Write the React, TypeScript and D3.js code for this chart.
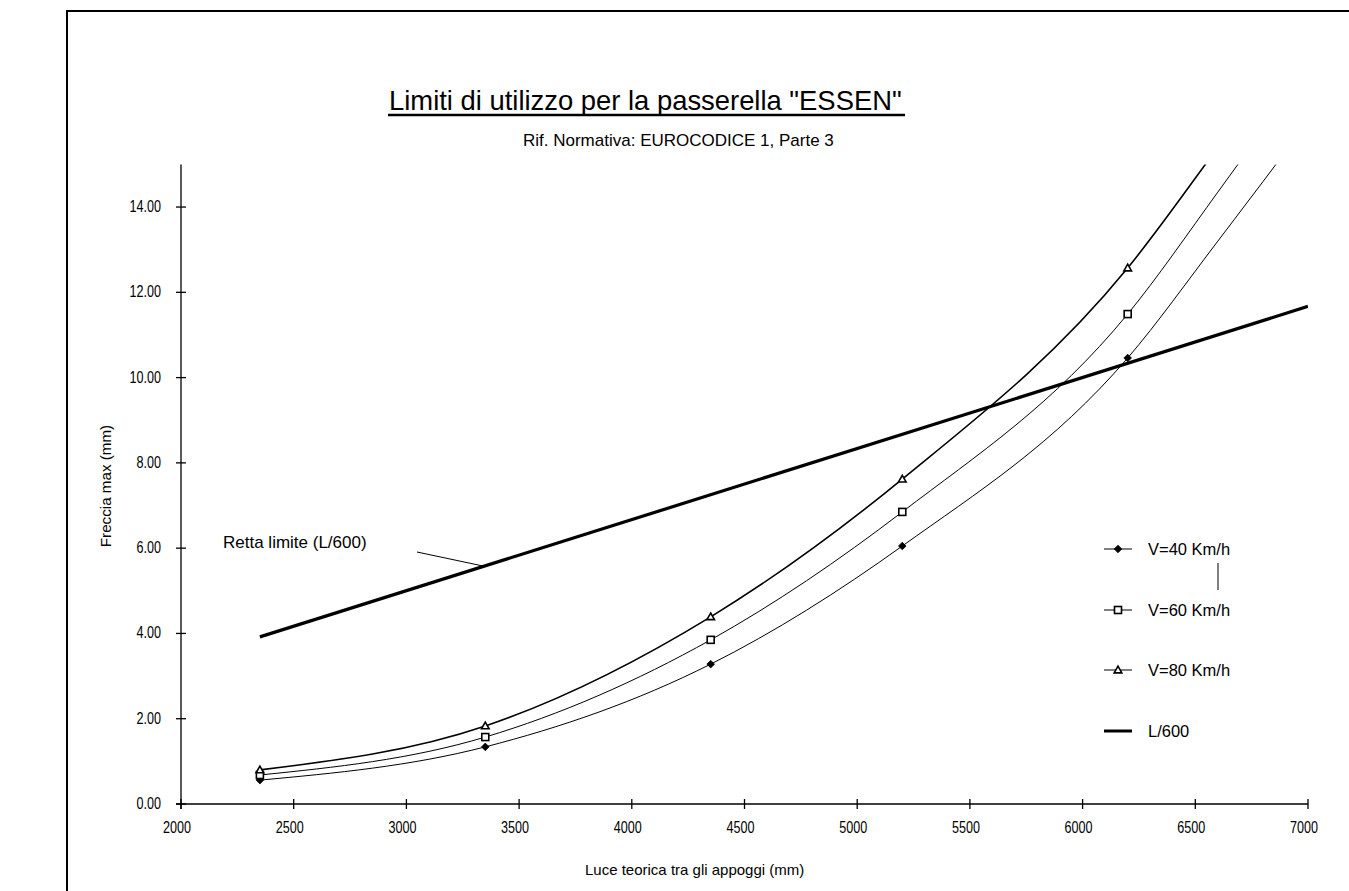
import React from "react";
import * as d3 from "d3";

// Data (span in mm, deflection in mm)
const spans = [2350, 3350, 4350, 5200, 6200];
const v40 = [0.56, 1.34, 3.28, 6.05, 10.46];
const v60 = [0.68, 1.57, 3.85, 6.85, 11.49];
const v80 = [0.80, 1.83, 4.39, 7.62, 12.57];
// continuation of the curves beyond the last marker (clipped at the top)
const extSpans = [6600, 7000];
const v40Ext = [13.2, 16.0];
const v60Ext = [14.35, 17.3];
const v80Ext = [15.4, 18.3];
const limitSpans = [2350, 7000];
const limitValues = [3.92, 11.67];
const xTicks = [2000, 2500, 3000, 3500, 4000, 4500, 5000, 5500, 6000, 6500, 7000];
const yTicks = [0, 2, 4, 6, 8, 10, 12, 14];
const legendLabels = ["V=40 Km/h", "V=60 Km/h", "V=80 Km/h", "L/600"];

const W = 1349, H = 891;
const x = d3.scaleLinear().domain([2000, 7000]).range([181, 1308]);
const y = d3.scaleLinear().domain([0, 15]).range([804, 164.4]);
const FONT = "Liberation Sans, Arial, sans-serif";

type Pt = [number, number];
const zip = (xs: number[], ys: number[]): Pt[] => xs.map((v, i) => [v, ys[i]]);

const curve = d3.line<Pt>().x(d => x(d[0])).y(d => y(d[1])).curve(d3.curveMonotoneX);
const straight = d3.line<Pt>().x(d => x(d[0])).y(d => y(d[1]));

function Marker({ kind, cx, cy }: { kind: string; cx: number; cy: number }) {
  if (kind === "diamond") {
    const r = 3.8;
    return <path d={`M${cx},${cy - r}L${cx + r},${cy}L${cx},${cy + r}L${cx - r},${cy}Z`} fill="#000" stroke="#000" strokeWidth={0.8} />;
  }
  if (kind === "square") {
    return <rect x={cx - 3.5} y={cy - 3.5} width={7} height={7} fill="#fff" stroke="#000" strokeWidth={1.6} />;
  }
  const r = 3.8;
  return <path d={`M${cx},${cy - r}L${cx + r},${cy + r * 0.75}L${cx - r},${cy + r * 0.75}Z`} fill="#fff" stroke="#000" strokeWidth={1.6} />;
}

const series = [
  { vals: v40, ext: v40Ext, kind: "diamond", width: 1 },
  { vals: v60, ext: v60Ext, kind: "square", width: 1 },
  { vals: v80, ext: v80Ext, kind: "triangle", width: 1.6 },
];

function SmallText({ tx, ty, anchor, children }: { tx: number; ty: number; anchor: string; children: React.ReactNode }) {
  return (
    <text transform={`translate(${tx},${ty}) scale(1,1.25)`} textAnchor={anchor as any} fontSize={12.6} fontFamily={FONT} fill="#000">
      {children}
    </text>
  );
}

export default function App() {
  const fmt = d3.format(".2f");
  return (
    <svg width={W} height={H} style={{ position: "absolute", left: 0, top: 0, background: "#fff" }}>
      <defs>
        <clipPath id="plot">
          <rect x={181} y={y(15)} width={1127} height={804 - y(15) + 2} />
        </clipPath>
      </defs>
      <rect x={0} y={0} width={W} height={H} fill="#fff" />
      {/* frame */}
      <rect x={67} y={11} width={1400} height={1000} fill="none" stroke="#000" strokeWidth={2} />

      {/* title */}
      <text x={389} y={110} fontSize={27.4} fontFamily={FONT} fill="#000">Limiti di utilizzo per la passerella "ESSEN"</text>
      <line x1={388} x2={905} y1={115} y2={115} stroke="#000" strokeWidth={2.5} />
      <text x={523} y={146} fontSize={17} fontFamily={FONT} fill="#000">Rif. Normativa: EUROCODICE 1, Parte 3</text>

      {/* axes */}
      <line x1={176} x2={1308} y1={804} y2={804} stroke="#000" strokeWidth={1.3} />
      <line x1={181} x2={181} y1={y(15)} y2={809} stroke="#000" strokeWidth={1.3} />
      {xTicks.map(t => (
        <g key={"x" + t}>
          <line x1={x(t)} x2={x(t)} y1={799} y2={809} stroke="#000" strokeWidth={1.3} />
          <SmallText tx={x(t) - 4} ty={833} anchor="middle">{String(t)}</SmallText>
        </g>
      ))}
      {yTicks.map(t => (
        <g key={"y" + t}>
          <line x1={176} x2={186} y1={y(t)} y2={y(t)} stroke="#000" strokeWidth={1.3} />
          <SmallText tx={161} ty={y(t) + 5} anchor="end">{fmt(t)}</SmallText>
        </g>
      ))}
      <text transform={`translate(111,486) rotate(-90)`} textAnchor="middle" fontSize={15.2} fontFamily={FONT} fill="#000">Freccia max (mm)</text>
      <text x={585} y={875} fontSize={15} fontFamily={FONT} fill="#000">Luce teorica tra gli appoggi (mm)</text>

      {/* curves */}
      <g clipPath="url(#plot)">
        <path d={straight(zip(limitSpans, limitValues)) || ""} fill="none" stroke="#000" strokeWidth={3.2} />
        {series.map((s, i) => (
          <path key={i} d={curve(zip(spans.concat(extSpans), s.vals.concat(s.ext))) || ""} fill="none" stroke="#000" strokeWidth={s.width} />
        ))}
      </g>
      {series.map((s, i) => (
        <g key={"m" + i}>
          {spans.map((sp, j) => <Marker key={j} kind={s.kind} cx={x(sp)} cy={y(s.vals[j])} />)}
        </g>
      ))}

      {/* annotation */}
      <text x={223} y={548} fontSize={17} fontFamily={FONT} fill="#000">Retta limite (L/600)</text>
      <line x1={417} x2={483} y1={552} y2={566} stroke="#000" strokeWidth={1} />

      {/* legend */}
      {legendLabels.map((lab, i) => {
        const ly = [549, 610, 670, 731][i];
        return (
          <g key={lab}>
            <line x1={1104} x2={1132} y1={ly} y2={ly} stroke="#000" strokeWidth={i === 3 ? 3 : 1} />
            {i < 3 && <Marker kind={series[i].kind} cx={1118} cy={ly} />}
            <text x={1148} y={ly + 6} fontSize={16.5} fontFamily={FONT} fill="#000">{lab}</text>
          </g>
        );
      })}
      <line x1={1218} x2={1218} y1={563} y2={590} stroke="#000" strokeWidth={1} />
    </svg>
  );
}
